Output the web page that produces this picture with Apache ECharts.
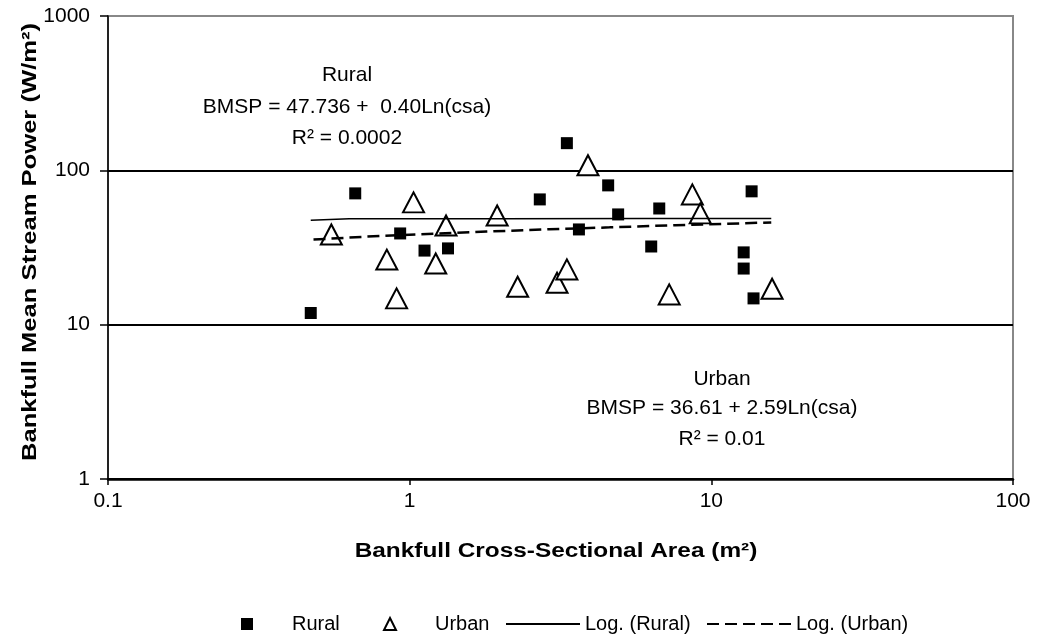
<!DOCTYPE html>
<html>
<head>
<meta charset="utf-8">
<script src="https://cdn.jsdelivr.net/npm/echarts@6/dist/echarts.min.js"></script>
<style>
  html, body { margin: 0; padding: 0; background: #fff; }
  #chart { width: 1038px; height: 637px; }
</style>
</head>
<body>
<div id="chart"></div>
<script>
// Rural sites: cross-sectional area (m2) and mean stream power (W/m2)
var ruralX = [0.47, 0.66, 0.93, 1.12, 1.34, 2.70, 3.32, 3.64, 4.55, 4.91, 6.32, 6.72, 12.8, 12.8, 13.6, 13.8];
var ruralY = [11.9, 70.9, 39.0, 30.2, 31.2, 64.8, 150, 41.4, 79.9, 51.8, 32.1, 56.6, 29.4, 23.1, 73.1, 14.8];

// Urban sites
var urbanX = [0.55, 0.84, 0.905, 1.03, 1.22, 1.32, 1.95, 2.28, 3.08, 3.32, 3.90, 7.25, 8.65, 9.19, 15.9];
var urbanY = [38.4, 26.4, 14.8, 62.0, 24.9, 43.9, 51.0, 17.6, 18.7, 22.8, 107.8, 15.7, 69.8, 52.6, 17.1];

// log trendlines as drawn in the picture
var ruralTrendX = [0.47, 0.63, 2, 6, 15.8];
var ruralTrendY = [47.4, 48.5, 48.6, 48.7, 48.8];
var urbanTrendX = [0.48, 0.8, 1.25, 1.8, 2.9, 4.6, 7.6, 12.8, 15.8];
var urbanTrendY = [35.6, 37.6, 38.9, 40.1, 41.5, 42.7, 44.1, 45.4, 46.0];

var seriesNames = ['Rural', 'Urban', 'Log. (Rural)', 'Log. (Urban)'];
var ruralNote = ['Rural', 'BMSP = 47.736 +  0.40Ln(csa)', 'R\u00b2 = 0.0002'];
var urbanNote = ['Urban', 'BMSP = 36.61 + 2.59Ln(csa)', 'R\u00b2 = 0.01'];

function pairs(xs, ys) {
  return xs.map(function (x, i) { return [x, ys[i]]; });
}

var FONT = '"Liberation Sans", Arial, sans-serif';
var chart = echarts.init(document.getElementById('chart'));

function noteText(lines, cx, ys) {
  return lines.map(function (t, i) {
    return {
      type: 'text', x: cx, y: ys[i], z: 50,
      style: { text: t, font: '21px ' + FONT, fill: '#000', align: 'center', verticalAlign: 'middle' }
    };
  });
}

function legendBox(name, left, w, h, pad, hideSymbol) {
  var lg = {
    data: [name], left: left, top: 609, itemWidth: w, itemHeight: h,
    selectedMode: false,
    textStyle: { fontSize: 20, fontFamily: FONT, color: '#000', padding: [0, 0, 0, pad] }
  };
  if (hideSymbol) lg.itemStyle = { opacity: 0 };
  return lg;
}

function plainNum(v) {
  return String(v);
}

var option = {
  animation: false,
  backgroundColor: '#fff',
  textStyle: { fontFamily: FONT },
  grid: {
    left: 108, right: 25, top: 16, bottom: 158,
    show: true, borderColor: '#888', borderWidth: 2
  },
  xAxis: {
    type: 'log', logBase: 10, min: 0.1, max: 100,
    axisLine: { show: true, lineStyle: { color: '#000', width: 2.5 } },
    axisTick: { show: true, length: 6, lineStyle: { color: '#000', width: 1.5 } },
    axisLabel: { fontSize: 21, color: '#000', margin: 12, fontFamily: FONT, formatter: plainNum },
    splitLine: { show: false }
  },
  yAxis: {
    type: 'log', logBase: 10, min: 1, max: 1000,
    axisLine: { show: true, lineStyle: { color: '#000', width: 1.5 } },
    axisTick: { show: true, length: 8, lineStyle: { color: '#000', width: 1.5 } },
    axisLabel: { fontSize: 21, color: '#000', margin: 18, fontFamily: FONT, formatter: plainNum },
    splitLine: { show: true, lineStyle: { color: ['#000', '#000', '#000', '#888'], width: 2 } }
  },
  legend: [
    legendBox(seriesNames[0], 236, 12, 12, 34, false),
    legendBox(seriesNames[1], 378, 12, 12, 34, false),
    legendBox(seriesNames[2], 500, 74, 12, 0, true),
    legendBox(seriesNames[3], 701, 84, 12, 0, true)
  ],
  series: [
    {
      name: seriesNames[0], type: 'scatter', symbol: 'rect', symbolSize: 12,
      itemStyle: { color: '#000', opacity: 1 },
      data: pairs(ruralX, ruralY)
    },
    {
      name: seriesNames[1], type: 'scatter', symbol: 'triangle', symbolSize: [21, 20],
      itemStyle: { color: '#fff', borderColor: '#000', borderWidth: 2, opacity: 1 },
      data: pairs(urbanX, urbanY)
    },
    {
      name: seriesNames[2], type: 'line', symbol: 'none', showSymbol: false, z: 5,
      lineStyle: { color: '#000', width: 1.5 },
      itemStyle: { color: 'rgba(0,0,0,0)' },
      data: pairs(ruralTrendX, ruralTrendY)
    },
    {
      name: seriesNames[3], type: 'line', symbol: 'none', showSymbol: false, z: 5,
      lineStyle: { color: '#000', width: 2.5, type: [12, 6] },
      itemStyle: { color: 'rgba(0,0,0,0)' },
      data: pairs(urbanTrendX, urbanTrendY)
    }
  ],
  graphic: [].concat(
    noteText(ruralNote, 347, [75, 107, 138]),
    noteText(urbanNote, 722, [379, 408, 439]),
    [
      {
        type: 'text', x: 556, y: 551, scaleX: 1.22, z: 50,
        style: { text: 'Bankfull Cross-Sectional Area (m\u00b2)', font: 'bold 20px ' + FONT, fill: '#000', align: 'center', verticalAlign: 'middle' }
      },
      {
        type: 'text', x: 30, y: 242, rotation: Math.PI / 2, scaleX: 1.28, z: 50,
        style: { text: 'Bankfull Mean Stream Power (W/m\u00b2)', font: 'bold 20px ' + FONT, fill: '#000', align: 'center', verticalAlign: 'middle' }
      }
    ]
  )
};

chart.setOption(option);
</script>
</body>
</html>
